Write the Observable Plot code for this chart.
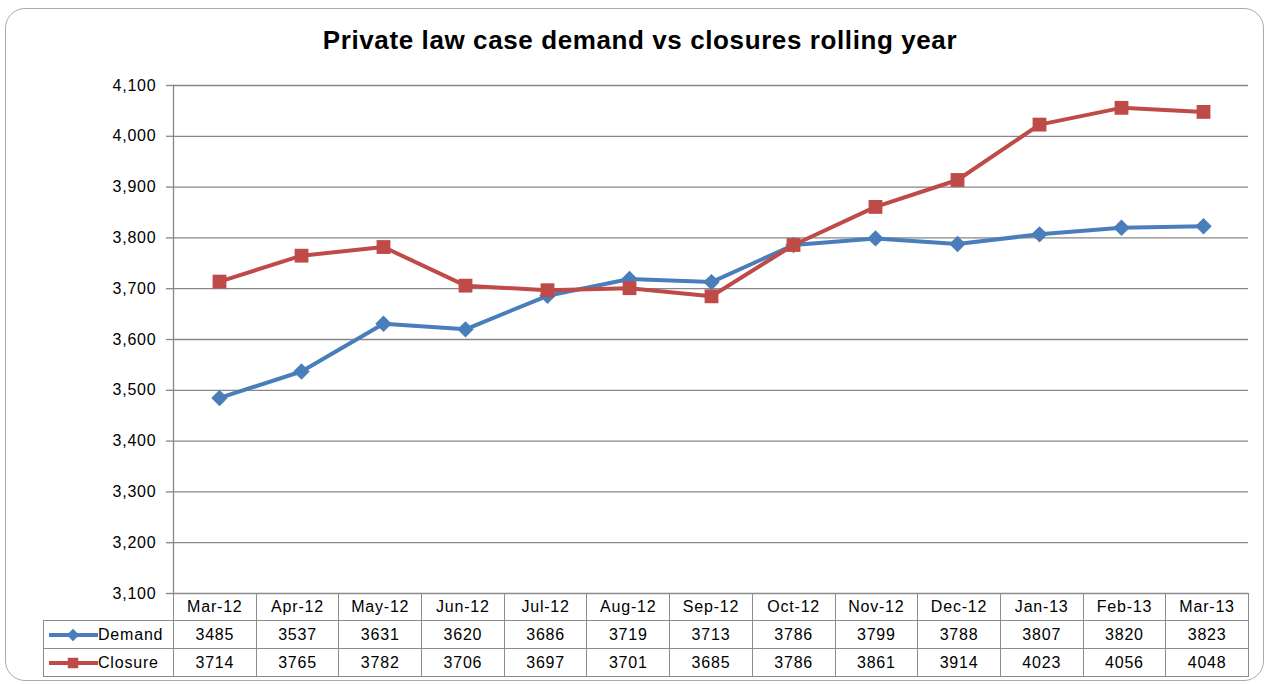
<!DOCTYPE html>
<html>
<head>
<meta charset="utf-8">
<script src="https://cdn.jsdelivr.net/npm/d3@7"></script>
<script src="https://cdn.jsdelivr.net/npm/@observablehq/plot@0.6"></script>
<style>
  html, body { margin: 0; padding: 0; background: #fff; }
  body { width: 1269px; height: 684px; overflow: hidden; position: relative; font-family: "Liberation Sans", Arial, sans-serif; color: #000; }
  #frame { position: absolute; left: 5px; top: 8px; width: 1259px; height: 673px; border: 1.5px solid #a9a9a9; border-radius: 20px; box-sizing: border-box; }
  #title { position: absolute; top: 27px; left: 0; width: 1280px; text-align: center; font-weight: bold; font-size: 26px; line-height: 26px; letter-spacing: 0.6px; }
  #chart { position: absolute; left: 0; top: 0; }
  #table { position: absolute; left: 43px; top: 593px; border-collapse: collapse; table-layout: fixed; width: 1205px; font-size: 16px; letter-spacing: 0.8px; }
  #table td { border: 1px solid #8c8c8c; text-align: center; padding: 0; white-space: nowrap; line-height: 18px; }
  #table tr.head td { height: 26px; }
  #table tr.data td { height: 27px; }
  #table td.blank { border-top: none; border-left: none; }
  #table td.key { text-align: left; padding-left: 4px; }
  #table td.key svg { vertical-align: middle; }
  #table td.key span { vertical-align: middle; }
</style>
</head>
<body>
<div id="frame"></div>
<div id="title">Private law case demand vs closures rolling year</div>
<div id="chart"></div>
<table id="table"></table>
<script>
// ---- data ----
const categories = ["Mar-12","Apr-12","May-12","Jun-12","Jul-12","Aug-12","Sep-12","Oct-12","Nov-12","Dec-12","Jan-13","Feb-13","Mar-13"];
const demand  = [3485,3537,3631,3620,3686,3719,3713,3786,3799,3788,3807,3820,3823];
const closure = [3714,3765,3782,3706,3697,3701,3685,3786,3861,3914,4023,4056,4048];
const seriesNames = ["Demand","Closure"];
const yTicks = [3100,3200,3300,3400,3500,3600,3700,3800,3900,4000,4100];

// ---- styles ----
const colors  = ["#4a7ebb","#be4b48"];
const symbols = ["diamond2","square"];
const radii   = [7.4,7.8];
const gridColor = "#878787";

const seriesValues = [demand, closure];
const rows = seriesNames.flatMap((s, k) => categories.map((c, i) => ({series: s, month: c, value: seriesValues[k][i]})));

const marks = [
  Plot.gridY(yTicks, {stroke: gridColor, strokeOpacity: 1, strokeWidth: 1.3}),
  Plot.frame({anchor: "left", stroke: gridColor, strokeWidth: 1.3}),
  Plot.axisY(yTicks, {label: null, tickSize: 7, tickPadding: 10, tickFormat: d3.format(","), stroke: gridColor, strokeWidth: 1.3, fontSize: 16, fill: "#000"})
];
seriesNames.forEach((s, k) => {
  const d = rows.filter(r => r.series === s);
  marks.push(Plot.line(d, {x: "month", y: "value", stroke: colors[k], strokeWidth: 4, strokeLinejoin: "round"}));
  marks.push(Plot.dot(d, {x: "month", y: "value", symbol: () => symbols[k], r: radii[k], fill: colors[k], stroke: "none"}));
});

const chart = Plot.plot({
  width: 1269, height: 684,
  marginLeft: 173, marginRight: 21, marginTop: 85, marginBottom: 91,
  style: {fontFamily: "'Liberation Sans', Arial, sans-serif", fontSize: "16px", color: "#000", background: "transparent", letterSpacing: "0.8px"},
  x: {type: "point", domain: categories, padding: 0.5, axis: null},
  y: {domain: [3100, 4100], axis: null, label: null},
  symbol: {type: "identity"},
  marks
});
document.getElementById("chart").appendChild(chart);

// ---- data table (legend + values) ----
const table = d3.select("#table");
const colgroup = table.append("colgroup");
colgroup.append("col").style("width", "130px");
categories.forEach(() => colgroup.append("col").style("width", (1075 / categories.length) + "px"));
const head = table.append("tr").attr("class", "head");
head.append("td").attr("class", "blank");
categories.forEach(c => head.append("td").text(c));
seriesNames.forEach((s, k) => {
  const tr = table.append("tr").attr("class", "data");
  const key = tr.append("td").attr("class", "key");
  const svg = key.append("svg").attr("width", 50).attr("height", 18);
  svg.append("line").attr("x1", 1).attr("x2", 50).attr("y1", 9).attr("y2", 9).attr("stroke", colors[k]).attr("stroke-width", 4);
  svg.append("path").attr("transform", "translate(25,9)")
    .attr("d", d3.symbol(k === 0 ? d3.symbolDiamond2 : d3.symbolSquare, k === 0 ? 100 : 110)())
    .attr("fill", colors[k]);
  key.append("span").text(s);
  seriesValues[k].forEach(v => tr.append("td").text(v));
});
</script>
</body>
</html>
